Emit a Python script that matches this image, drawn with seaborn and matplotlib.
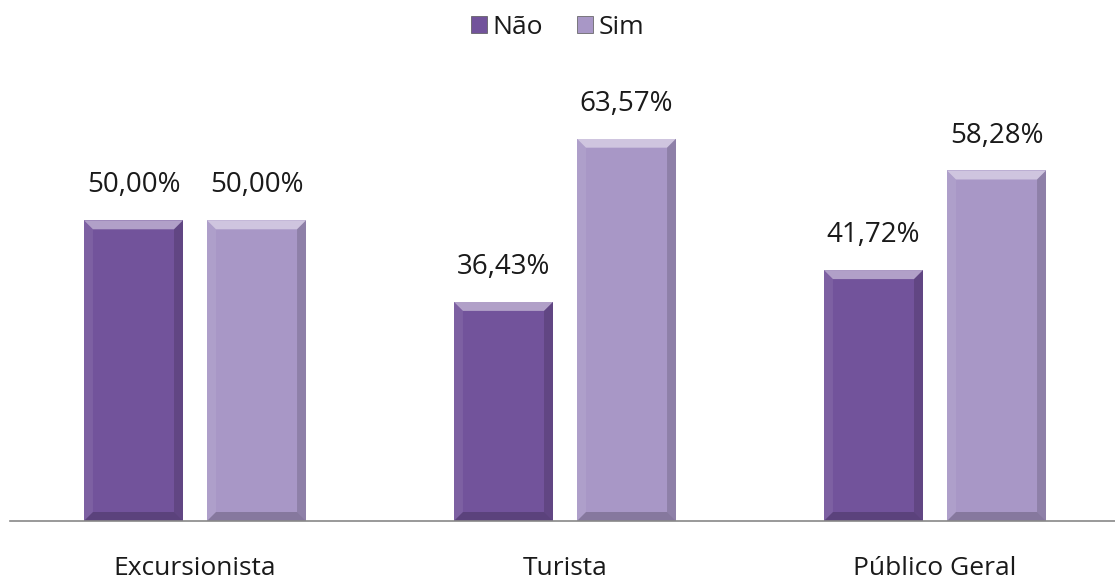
import pandas as pd
import matplotlib
matplotlib.use('Agg')
import matplotlib.pyplot as plt
from matplotlib.patches import Polygon, Patch
import seaborn as sns

# dados
categorias = ['Excursionista', 'Turista', 'Público Geral']
nao = [50.00, 36.43, 41.72]
sim = [50.00, 63.57, 58.28]
series = ['Não', 'Sim']

df = pd.DataFrame({
    'categoria': categorias * 2,
    'resposta': [series[0]] * 3 + [series[1]] * 3,
    'valor': nao + sim,
})

sns.set_style('white')
plt.rcParams['font.family'] = ['Open Sans', 'DejaVu Sans']

cores = {'Não': '#72539b', 'Sim': '#a897c6'}

fig = plt.figure(figsize=(11.15, 5.84), dpi=100)
ax = fig.add_axes([10 / 1115, 63 / 584, 1110 / 1115, 421 / 584])

sns.barplot(data=df, x='categoria', y='valor', hue='resposta', palette=cores,
            width=0.665, gap=0.195, ax=ax, legend=False, saturation=1,
            edgecolor='none')

ax.set_ylim(0, 70)
ax.set_xlim(-0.5, 2.5)

# efeito de bisel
fig.canvas.draw()
to_data = ax.transData.inverted()
b = 9  # px
for p in ax.patches:
    x0, w, h = p.get_x(), p.get_width(), p.get_height()
    if h <= 0:
        continue
    (px0, py0) = ax.transData.transform((x0, 0))
    (px1, py1) = ax.transData.transform((x0 + w, h))
    def d(px, py):
        return to_data.transform((px, py))
    topo = [d(px0, py1), d(px1, py1), d(px1 - b, py1 - b), d(px0 + b, py1 - b)]
    dir_ = [d(px1, py1), d(px1, py0), d(px1 - b, py0 + b), d(px1 - b, py1 - b)]
    base = [d(px0, py0), d(px1, py0), d(px1 - b, py0 + b), d(px0 + b, py0 + b)]
    esq = [d(px0, py1), d(px0, py0), d(px0 + b, py0 + b), d(px0 + b, py1 - b)]
    ax.add_patch(Polygon(topo, closed=True, facecolor='white', alpha=0.45, lw=0))
    ax.add_patch(Polygon(esq, closed=True, facecolor='white', alpha=0.08, lw=0))
    ax.add_patch(Polygon(dir_, closed=True, facecolor='black', alpha=0.15, lw=0))
    ax.add_patch(Polygon(base, closed=True, facecolor='black', alpha=0.2, lw=0))

# rótulos
for cont in ax.containers:
    ax.bar_label(cont, labels=[f'{v:.2f}%'.replace('.', ',') for v in cont.datavalues],
                 padding=15, fontsize=20, color='#1a1a1a')

ax.set_xlabel('')
ax.set_ylabel('')
ax.set_yticks([])
ax.tick_params(axis='x', length=0, pad=25, labelsize=19, labelcolor='#1a1a1a')
for s in ['top', 'left', 'right']:
    ax.spines[s].set_visible(False)
ax.spines['bottom'].set_color('#888888')
ax.spines['bottom'].set_linewidth(1.2)

# legenda
handles = [Patch(facecolor=cores[s], edgecolor='#555555', linewidth=0.5) for s in series]
fig.legend(handles, series, loc='upper center', bbox_to_anchor=(0.5, 1.015), ncol=2,
           frameon=False, fontsize=19, handlelength=0.6, handleheight=0.6,
           handletextpad=0.2, columnspacing=1.3, labelcolor='#1a1a1a')

fig.savefig('out.png', dpi=100)
